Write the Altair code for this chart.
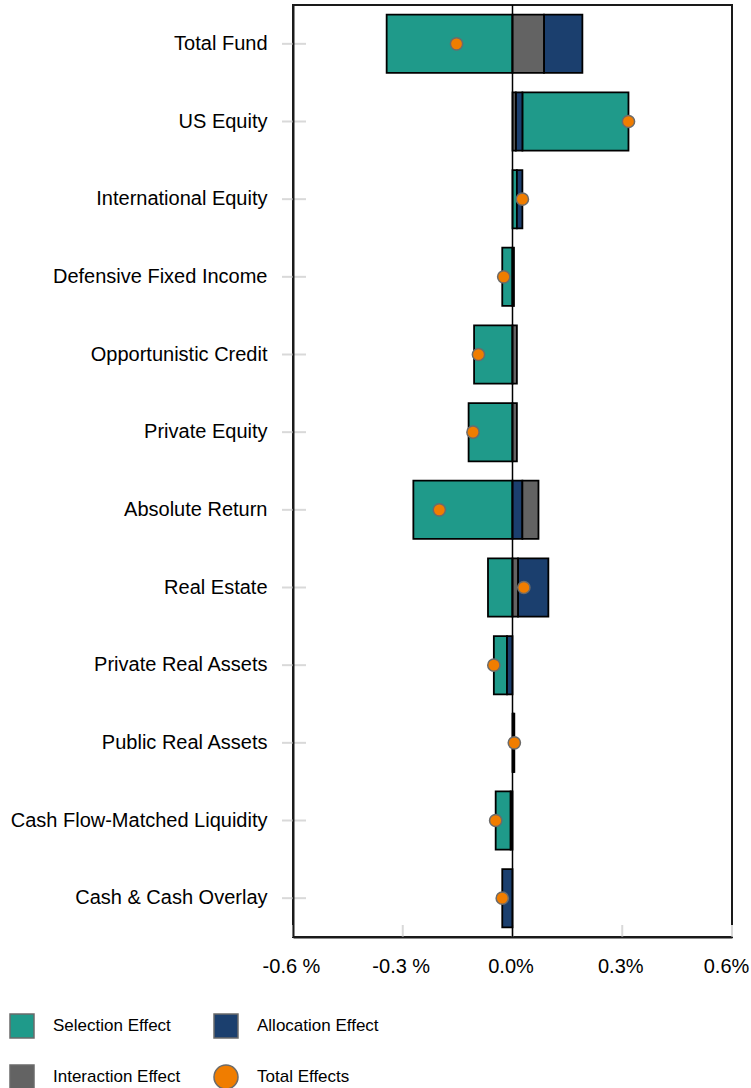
import altair as alt
import pandas as pd

# Attribution by asset class, in percent
categories = [
    "Total Fund", "US Equity", "International Equity", "Defensive Fixed Income",
    "Opportunistic Credit", "Private Equity", "Absolute Return", "Real Estate",
    "Private Real Assets", "Public Real Assets", "Cash Flow-Matched Liquidity",
    "Cash & Cash Overlay",
]
selection_effect = [-0.344, 0.290, 0.012, -0.028, -0.105, -0.120, -0.271, -0.067, -0.036, 0.002, -0.041, 0.000]
allocation_effect = [0.105, 0.018, 0.015, 0.000, 0.000, 0.000, 0.027, 0.083, -0.015, 0.002, -0.005, -0.028]
interaction_effect = [0.086, 0.009, 0.000, 0.004, 0.012, 0.012, 0.044, 0.015, 0.000, 0.001, 0.000, 0.000]
total_effects = [-0.153, 0.317, 0.027, -0.024, -0.093, -0.108, -0.200, 0.031, -0.051, 0.005, -0.046, -0.028]

effects = ["Selection Effect", "Allocation Effect", "Interaction Effect", "Total Effects"]
effect_colors = ["#1F9A8A", "#1B3F6E", "#636363", "#F07D00"]
effect_shapes = ["square", "square", "square", "circle"]
x_ticks = [-0.6, -0.3, 0.0, 0.3, 0.6]

FONT = "Liberation Sans, Arial, sans-serif"

rows = []
for series_name, series in zip(effects[:3], [selection_effect, allocation_effect, interaction_effect]):
    for cat, v in zip(categories, series):
        rows.append({"category": cat, "effect": series_name, "value": v, "magnitude": abs(v)})
bars_df = pd.DataFrame(rows)
totals_df = pd.DataFrame({"category": categories, "value": total_effects, "effect": "Total Effects"})

y_enc = alt.Y(
    "category:N",
    sort=categories,
    scale=alt.Scale(paddingInner=0.25, paddingOuter=0.125),
    axis=alt.Axis(
        title=None, domain=True, domainColor="#1a1a1a", domainWidth=2, ticks=False,
        labelPadding=26, labelFont=FONT, labelFontSize=20, labelColor="black",
        labelLimit=400, zindex=1,
    ),
)
x_scale = alt.Scale(domain=[-0.6, 0.6], nice=False, zero=False)
x_axis = alt.Axis(
    title=None, values=x_ticks, domain=True, domainColor="#1a1a1a", domainWidth=2,
    ticks=False, grid=False, labelPadding=19, labelFont=FONT, labelFontSize=20,
    labelColor="black", zindex=1, labelFlush=False,
    labelExpr="datum.value < 0 ? '-' + format(-datum.value, '.1f') + ' %' : format(datum.value, '.1f') + '%'",
    labelOffset={"condition": {"test": "datum.value >= 0.6", "value": -6}, "value": -2},
)

bars = alt.Chart(bars_df).transform_filter("datum.value != 0").mark_bar(
    stroke="black", strokeWidth=1.8
).encode(
    y=y_enc,
    x=alt.X("value:Q", stack="zero", scale=x_scale, axis=x_axis),
    color=alt.Color(
        "effect:N",
        scale=alt.Scale(domain=effects, range=effect_colors),
        legend=alt.Legend(
            title=None, orient="none", legendX=-284, legendY=1008, columns=2,
            direction="horizontal",
            symbolSize=576, symbolStrokeColor="black", symbolStrokeWidth=1.5,
            labelFont=FONT, labelFontSize=17, labelColor="black", labelOffset=18,
            columnPadding=30, rowPadding=21, symbolOpacity=1,
        ),
    ),
    order=alt.Order("magnitude:Q", sort="ascending"),
)

# light category ticks crossing the left frame
y_ticks = alt.Chart(pd.DataFrame({"category": categories})).mark_rule(
    color="#d9d9d9", strokeWidth=2
).encode(
    y=alt.Y("category:N", sort=categories),
    x=alt.value(-11),
    x2=alt.value(13),
)

# short inward ticks on the value axis
x_tick_marks = alt.Chart(pd.DataFrame({"value": x_ticks})).mark_rule(
    color="#d9d9d9", strokeWidth=2
).encode(
    x=alt.X("value:Q"),
    y=alt.value(920),
    y2=alt.value(932),
)

zero_line = alt.Chart(pd.DataFrame({"value": [0.0]})).mark_rule(
    color="black", strokeWidth=1.5
).encode(x="value:Q")

dots = alt.Chart(totals_df).mark_point(
    filled=True, size=150, stroke="#6b6b6b", strokeWidth=1.5, opacity=1
).encode(
    y=alt.Y("category:N", sort=categories),
    x=alt.X("value:Q"),
    color=alt.Color("effect:N"),
    shape=alt.Shape("effect:N", scale=alt.Scale(domain=effects, range=effect_shapes)),
)

chart = alt.layer(y_ticks, x_tick_marks, bars, zero_line, dots).properties(
    width=439,
    height=932,
    autosize=alt.AutoSizeParams(type="none"),
    padding={"left": 293, "top": 5, "right": 19, "bottom": 151},
    background="white",
).configure_view(
    stroke="#1a1a1a", strokeWidth=2
)

chart.save("out.html", embed_options={"renderer": "svg", "actions": False})
